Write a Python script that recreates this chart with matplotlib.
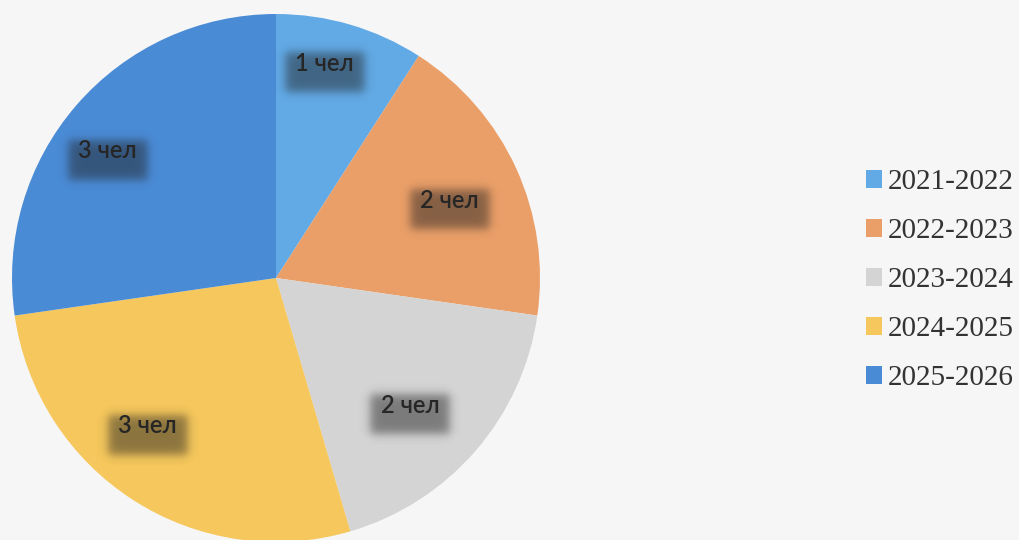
import numpy as np
import matplotlib
matplotlib.use("Agg")
import matplotlib.pyplot as plt
from matplotlib.patches import Patch

# ---- data ----
categories = ["2021-2022", "2022-2023", "2023-2024", "2024-2025", "2025-2026"]
values = [1, 2, 2, 3, 3]
labels = ["1 чел", "2 чел", "2 чел", "3 чел", "3 чел"]

# ---- style ----
colors = ["#62aae6", "#eb9f68", "#d4d4d4", "#f5c75c", "#4a8bd6"]
label_radius = [0.835, 0.72, 0.70, 0.74, 0.80]
label_angle_shift = [3.6, -0.4, -2.6, -8.3, 3.9]   # degrees (ccw), best-fit offsets
bg = "#f6f6f6"

W, H = 1020, 540
fig = plt.figure(figsize=(W / 100, H / 100), dpi=100, facecolor=bg)

# pie axes: centre (276, 278) px, radius 264 px
cx, cy, R = 276, 278, 264
ax = fig.add_axes([(cx - R) / W, (H - cy - R) / H, 2 * R / W, 2 * R / H])
ax.set_facecolor("none")
ax.axis("off")

wedges, _ = ax.pie(values, colors=colors, startangle=90, counterclock=False,
                   radius=1.0, wedgeprops=dict(linewidth=0))


def shadow_img(w, h, blur):
    n = 120
    xs = np.linspace(-0.5 - 2 * blur, 0.5 + 2 * blur, n)
    by = blur * w / h
    ys = np.linspace(-0.5 - 2 * by, 0.5 + 2 * by, n)
    sx = 0.5 * (np.tanh((xs + 0.5) / blur) - np.tanh((xs - 0.5) / blur))
    sy = 0.5 * (np.tanh((ys + 0.5) / by) - np.tanh((ys - 0.5) / by))
    a = np.outer(sy, sx) * 0.5
    img = np.zeros((n, n, 4))
    img[..., :3] = 0.13
    img[..., 3] = a
    return img, xs, ys


for wdg, lab, rf, da in zip(wedges, labels, label_radius, label_angle_shift):
    mid = np.deg2rad((wdg.theta1 + wdg.theta2) / 2 + da)
    x, y = rf * np.cos(mid), rf * np.sin(mid)
    bw, bh = 0.30, 0.15
    img, xs, ys = shadow_img(bw, bh, 0.07)
    yc = y - 0.035
    ax.imshow(img, extent=[x + xs[0] * bw, x + xs[-1] * bw,
                           yc + ys[0] * bh, yc + ys[-1] * bh],
              origin="lower", zorder=3, interpolation="bilinear")
    ax.text(x, y, lab, ha="center", va="center", fontsize=17,
            family=["Lato", "DejaVu Sans"], weight="semibold",
            color="#262626", zorder=4)

ax.set_xlim(-1, 1)
ax.set_ylim(-1, 1)
ax.set_aspect("equal")

handles = [Patch(facecolor=c, edgecolor="none") for c in colors]
leg = fig.legend(handles, categories, loc="upper left",
                 bbox_to_anchor=(840 / W, 1 - 143 / H),
                 frameon=False, handlelength=0.55, handleheight=0.55,
                 handletextpad=0.2, labelspacing=0.79,
                 prop=dict(family="Liberation Serif", size=21))
for t in leg.get_texts():
    t.set_color("#333333")

fig.savefig("out.png", dpi=100, facecolor=bg)
